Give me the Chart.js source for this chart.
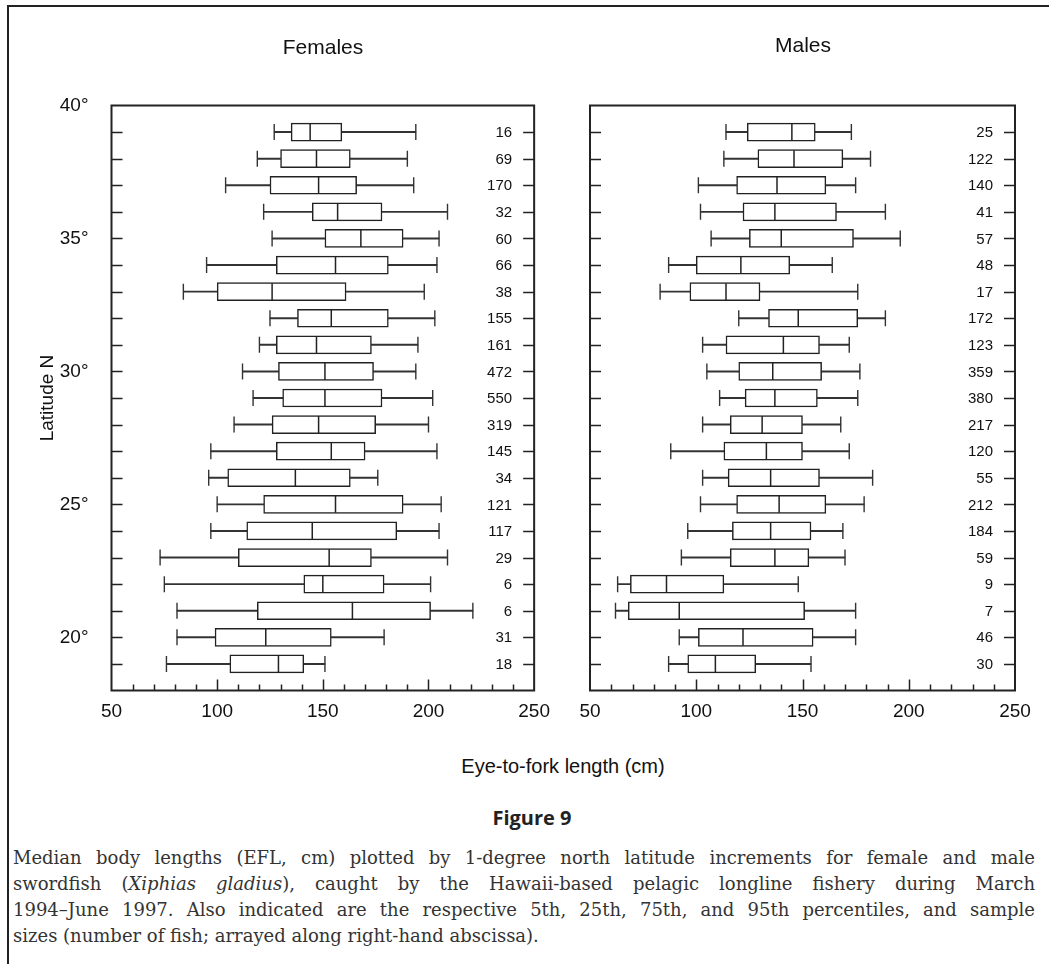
<!DOCTYPE html>
<html>
<head>
<meta charset="utf-8">
<script src="https://cdn.jsdelivr.net/npm/chart.js@4.4.1/dist/chart.umd.min.js"></script>
<style>
  body { margin: 0; background: #fff; }
  #page { position: relative; width: 1049px; height: 964px; overflow: hidden; background: #fff;
          font-family: 'Liberation Sans', Arial, sans-serif; color: #111; }
  .rule { position: absolute; background: #222; }
  canvas { position: absolute; top: 0; }
  .label { position: absolute; white-space: nowrap; transform: translate(-50%, -50%); }
  .caption { position: absolute; left: 13px; width: 1022px; top: 845px;
             font-family: 'DejaVu Serif', 'Liberation Serif', serif; font-size: 18px; color: #333; }
  .caption div { height: 26px; line-height: 26px; white-space: nowrap; text-align: justify; text-align-last: justify; }
  .caption div.last { text-align-last: left; }
</style>
</head>
<body>
<div id="page">
  <div class="rule" style="left:7px; top:5px; width:1042px; height:2px;"></div>
  <div class="rule" style="left:7px; top:5px; width:2px; height:959px;"></div>

  <canvas id="females" width="560" height="740" style="left:0;"></canvas>
  <canvas id="males" width="489" height="740" style="left:560px;"></canvas>

  <div class="label" style="left:323px; top:47px; font-size:21px;">Females</div>
  <div class="label" style="left:803px; top:45px; font-size:21px;">Males</div>
  <div class="label" style="left:563px; top:766px; font-size:20px;">Eye-to-fork length (cm)</div>
  <div class="label" style="left:532px; top:817px; font-size:20px; font-weight:bold; font-family:'Open Sans', sans-serif; color:#222;">Figure 9</div>

  <div class="caption">
    <div>Median body lengths (EFL, cm) plotted by 1-degree north latitude increments for female and male</div>
    <div>swordfish (<i>Xiphias gladius</i>), caught by the Hawaii-based pelagic longline fishery during March</div>
    <div>1994–June 1997. Also indicated are the respective 5th, 25th, 75th, and 95th percentiles, and sample</div>
    <div class="last">sizes (number of fish; arrayed along right-hand abscissa).</div>
  </div>
</div>

<script>
// latitude rows, one box per 1-degree band (top to bottom)
const latitudes = [39, 38, 37, 36, 35, 34, 33, 32, 31, 30, 29, 28, 27, 26, 25, 24, 23, 22, 21, 20, 19];

// females: 5th, 25th, median, 75th, 95th percentiles and sample size
const femaleP5     = [127, 119, 104, 122, 126,  95,  84, 125, 120, 112, 117, 108,  97,  96, 100,  97,  73,  75,  81,  81,  76];
const femaleQ1     = [135, 130, 125, 145, 151, 128, 100, 138, 128, 129, 131, 126, 128, 105, 122, 114, 110, 141, 119,  99, 106];
const femaleMedian = [144, 147, 148, 157, 168, 156, 126, 154, 147, 151, 151, 148, 154, 137, 156, 145, 153, 150, 164, 123, 129];
const femaleQ3     = [159, 163, 166, 178, 188, 181, 161, 181, 173, 174, 178, 175, 170, 163, 188, 185, 173, 179, 201, 154, 141];
const femaleP95    = [194, 190, 193, 209, 205, 204, 198, 203, 195, 194, 202, 200, 204, 176, 206, 205, 209, 201, 221, 179, 151];
const femaleN      = [16, 69, 170, 32, 60, 66, 38, 155, 161, 472, 550, 319, 145, 34, 121, 117, 29, 6, 6, 31, 18];

// males
const maleP5     = [114, 113, 101, 102, 107,  87,  83, 120, 103, 105, 111, 103,  88, 103, 102,  96,  93,  63,  62,  92,  87];
const maleQ1     = [124, 129, 119, 122, 125, 100,  97, 134, 114, 120, 123, 116, 113, 115, 119, 117, 116,  69,  68, 101,  96];
const maleMedian = [145, 146, 138, 137, 140, 121, 114, 148, 141, 136, 137, 131, 133, 135, 139, 135, 137,  86,  92, 122, 109];
const maleQ3     = [156, 169, 161, 166, 174, 144, 130, 176, 158, 159, 157, 150, 150, 158, 161, 154, 153, 113, 151, 155, 128];
const maleP95    = [173, 182, 175, 189, 196, 164, 176, 189, 172, 177, 176, 168, 172, 183, 179, 169, 170, 148, 175, 175, 154];
const maleN      = [25, 122, 140, 41, 57, 48, 17, 172, 123, 359, 380, 217, 120, 55, 212, 184, 59, 9, 7, 46, 30];

// axis ranges / tick steps
const latMin = 18, latMax = 40, latLabelStep = 5;
const eflMin = 50, eflMax = 250, eflStep = 10, eflLabelStep = 50;

const INK = '#222';
const FONT = "'Liberation Sans', Arial, sans-serif";

// frame, inward ticks and sample-size column
function frameTicks(counts) {
    return {
        id: 'frameTicks',
        afterDatasetsDraw(chart) {
            const {ctx, chartArea: a, scales: {x, y}} = chart;
            ctx.save();
            ctx.strokeStyle = INK;
            ctx.lineWidth = 1.5;
            ctx.beginPath();
            y.ticks.forEach(t => {
                if (t.value <= y.min || t.value >= y.max) return;
                const py = Math.round(y.getPixelForValue(t.value)) + 0.5;
                ctx.moveTo(a.left, py); ctx.lineTo(a.left + 11, py);
                ctx.moveTo(a.right, py); ctx.lineTo(a.right - 11, py);
            });
            x.ticks.forEach(t => {
                if (t.value <= x.min || t.value >= x.max) return;
                const px = Math.round(x.getPixelForValue(t.value)) + 0.5;
                const len = t.value % eflLabelStep === 0 ? 11 : 6;
                ctx.moveTo(px, a.bottom); ctx.lineTo(px, a.bottom - len);
            });
            ctx.stroke();

            ctx.lineWidth = 2;
            ctx.strokeRect(a.left, a.top, a.right - a.left, a.bottom - a.top);

            ctx.fillStyle = '#111';
            ctx.font = '15px ' + FONT;
            ctx.textAlign = 'right';
            ctx.textBaseline = 'middle';
            counts.forEach((n, i) => {
                ctx.fillText(String(n), a.right - 22, y.getPixelForValue(latitudes[i]) + 1);
            });
            ctx.restore();
        }
    };
}

function makePanel(canvasId, p5, q1, med, q3, p95, counts, side) {
    const rows = (lo, hi) => latitudes.map((lat, i) => ({x: [lo[i], hi[i]], y: lat}));
    const pts = vals => latitudes.map((lat, i) => ({x: vals[i], y: lat}));
    const isLeft = side === 'left';

    return new Chart(document.getElementById(canvasId), {
        type: 'bar',
        data: {
            datasets: [
                { data: rows(q1, q3), backgroundColor: '#fff', borderColor: INK, borderWidth: 1.5,
                  borderSkipped: false, barThickness: 18, grouped: false, order: 3 },
                { data: rows(p5, q1), backgroundColor: '#333', borderWidth: 0,
                  barThickness: 1.3, grouped: false, order: 4 },
                { data: rows(q3, p95), backgroundColor: '#333', borderWidth: 0,
                  barThickness: 1.3, grouped: false, order: 4 },
                { type: 'scatter', data: pts(med), pointStyle: 'line', rotation: 90, radius: 8.5,
                  borderColor: INK, borderWidth: 1.5, showLine: false, order: 1 },
                { type: 'scatter', data: pts(p5), pointStyle: 'line', rotation: 90, radius: 8,
                  borderColor: '#333', borderWidth: 1.4, showLine: false, order: 2 },
                { type: 'scatter', data: pts(p95), pointStyle: 'line', rotation: 90, radius: 8,
                  borderColor: '#333', borderWidth: 1.4, showLine: false, order: 2 }
            ]
        },
        options: {
            indexAxis: 'y',
            responsive: false,
            maintainAspectRatio: false,
            animation: false,
            events: [],
            layout: {
                padding: isLeft ? {left: 0, top: 105.5, right: 23, bottom: 0}
                                : {left: 0, top: 105.5, right: 34, bottom: 0}
            },
            plugins: { legend: { display: false }, tooltip: { enabled: false } },
            scales: {
                x: {
                    type: 'linear',
                    min: eflMin,
                    max: eflMax,
                    grid: { display: false, drawTicks: false },
                    border: { display: false },
                    ticks: {
                        stepSize: eflStep,
                        autoSkip: false,
                        maxRotation: 0,
                        padding: 10,
                        color: '#111',
                        font: { family: FONT, size: 19 },
                        callback: v => (v % eflLabelStep === 0 ? String(v) : '')
                    },
                    afterFit: s => { s.height = 49.5; }
                },
                y: {
                    type: 'linear',
                    offset: false,
                    min: latMin,
                    max: latMax,
                    grid: { display: false, drawTicks: false, offset: false },
                    border: { display: false },
                    ticks: {
                        display: isLeft,
                        stepSize: 1,
                        autoSkip: false,
                        padding: 23,
                        color: '#111',
                        font: { family: FONT, size: 19 },
                        callback: v => (v % latLabelStep === 0 ? v + '°' : '')
                    },
                    title: {
                        display: isLeft,
                        text: 'Latitude N',
                        color: '#111',
                        font: { family: FONT, size: 19 },
                        padding: { top: 36, bottom: 0 }
                    },
                    afterFit: s => { s.width = isLeft ? 111.5 : 30; }
                }
            }
        },
        plugins: [frameTicks(counts)]
    });
}

makePanel('females', femaleP5, femaleQ1, femaleMedian, femaleQ3, femaleP95, femaleN, 'left');
makePanel('males', maleP5, maleQ1, maleMedian, maleQ3, maleP95, maleN, 'right');
</script>
</body>
</html>
